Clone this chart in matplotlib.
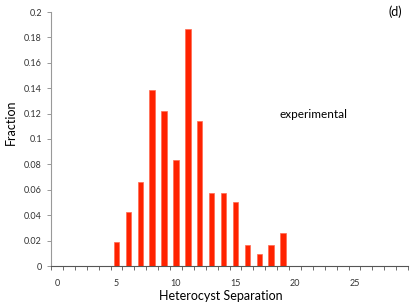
import numpy as np
import matplotlib
matplotlib.use('Agg')
import matplotlib.pyplot as plt
from matplotlib.ticker import FuncFormatter

plt.rcParams['font.family'] = ['Lato', 'DejaVu Sans']

# heterocyst separation (cells) and observed fraction
sep = [5, 6, 7, 8, 9, 10, 11, 12, 13, 14, 15, 16, 17, 18, 19]
frac = [0.0187, 0.0428, 0.0664, 0.1386, 0.122, 0.0835, 0.1864, 0.1144,
        0.0575, 0.0575, 0.0501, 0.0168, 0.0094, 0.0168, 0.0262]
xlabels = [0, 5, 10, 15, 20, 25]
yticks = [0, 0.02, 0.04, 0.06, 0.08, 0.1, 0.12, 0.14, 0.16, 0.18, 0.2]

fig = plt.figure(figsize=(4.15, 3.05), dpi=100)
ax = fig.add_axes([51/415, 39/305, 357/415, 254/305])

ax.bar(sep, frac, width=0.45, color='#ff2200', edgecolor='#ff6a50', linewidth=0.5)

ax.set_xlim(-0.5, 29.5)
ax.set_ylim(0, 0.2)

ax.set_xticks(xlabels)
ax.set_xticks(np.arange(-0.5, 30, 1), minor=True)
ax.tick_params(axis='x', which='major', length=0, labelsize=6.5, pad=9, colors='#333333')
ax.tick_params(axis='x', which='minor', length=3, direction='out', color='#555555', width=0.6)
ax.set_yticks(yticks)
ax.yaxis.set_major_formatter(FuncFormatter(lambda v, p: '%g' % v))
ax.tick_params(axis='y', length=3, direction='out', labelsize=6.5, width=0.6, colors='#333333')
ax.tick_params(axis='y', color='#888888')

for s in ['top', 'right']:
    ax.spines[s].set_visible(False)
ax.spines['left'].set_color('#999999')
ax.spines['bottom'].set_color('#555555')
ax.spines['left'].set_linewidth(0.8)
ax.spines['bottom'].set_linewidth(0.8)

ax.set_xlabel('Heterocyst Separation', fontsize=9)
ax.set_ylabel('Fraction', fontsize=9)
ax.xaxis.set_label_coords(0.476, -0.095)
ax.yaxis.set_label_coords(-0.095, 0.567)

fig.text(313/415, 1 - 115/305, 'experimental', fontsize=8.5, ha='center', va='center')
fig.text(395/415, 1 - 12/305, '(d)', fontsize=9, ha='center', va='center')

fig.savefig('out.png', dpi=100)
